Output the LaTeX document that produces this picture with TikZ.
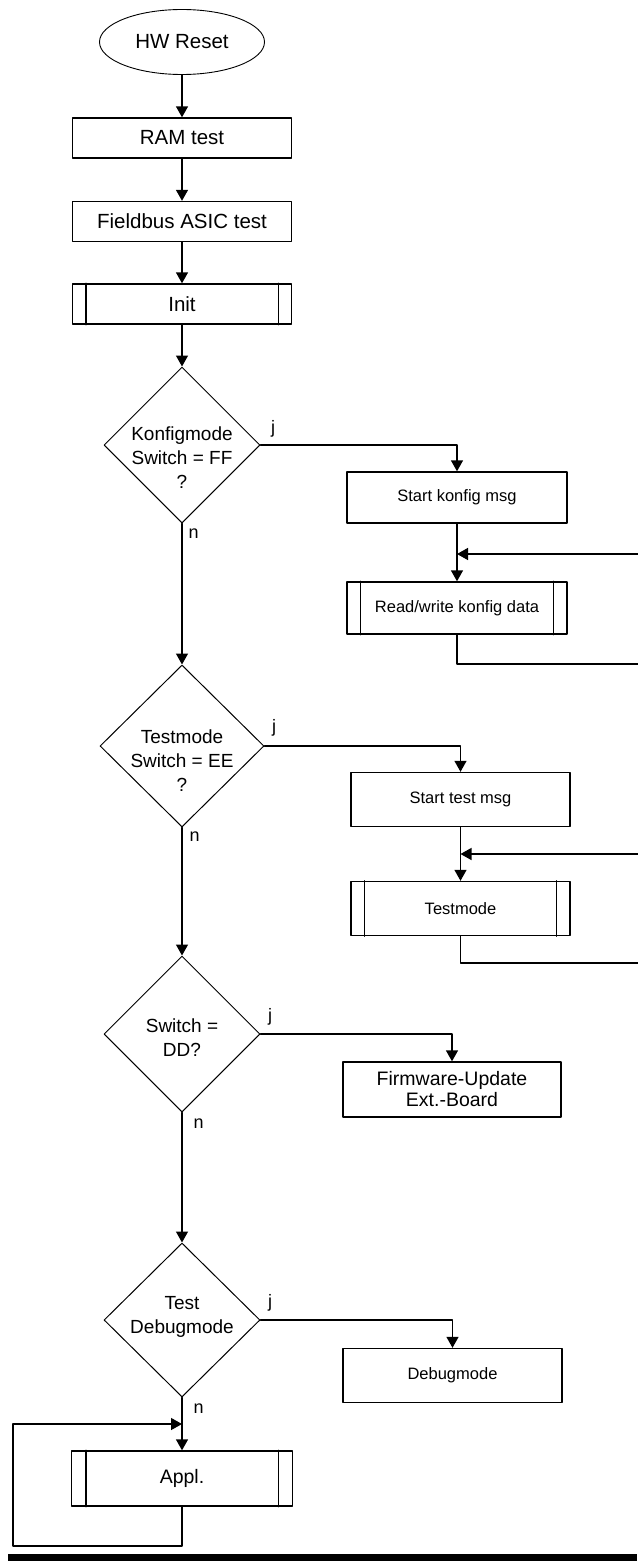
\documentclass[tikz,border=0pt]{standalone}
\usepackage{fontspec}
\setmainfont{Liberation Sans}
\usetikzlibrary{shapes.geometric,arrows.meta}

\tikzset{
  box/.style={draw,rectangle,inner sep=0pt,minimum width=219pt,minimum height=40pt,
    align=center,font=\fontsize{20.5}{22}\selectfont},
  smallbox/.style={box,minimum height=54pt,font=\fontsize{16.5}{19}\selectfont},
  decision/.style={draw,diamond,line width=1pt,inner sep=0pt,
    minimum width=156pt,minimum height=156pt},
  dtext/.style={align=center,inner sep=0pt,font=\fontsize{19}{24}\selectfont},
  lbl/.style={inner sep=1pt,font=\fontsize{18}{20}\selectfont},
  flow/.style={-{Triangle[width=12pt,length=11pt]}},
}

\begin{document}
\begin{tikzpicture}[x=1pt,y=-1pt,line width=1.4pt,line cap=round,line join=round]
\useasboundingbox (0,0) rectangle (637,1563);
% main column
\node[draw,ellipse,line width=0.9pt,minimum width=165pt,minimum height=65pt,
  font=\fontsize{20.5}{22}\selectfont] (reset) at (182,42) {HW Reset};
\node[box] (ram) at (182,138) {RAM test};
\node[box] (asic) at (182,221.5) {Fieldbus ASIC test};
\node[box] (init) at (182,304) {Init};
\node[decision] (konfig) at (182,445) {};
\node[dtext] (konfigtxt) at (182,458) {Konfigmode\\Switch = FF\\?};
\node[decision,minimum width=164pt,minimum height=162pt] (testq) at (182,746) {};
\node[dtext] (testqtxt) at (182,761) {Testmode\\Switch = EE\\?};
\node[decision] (switchq) at (182,1034) {};
\node[dtext] (switchqtxt) at (182,1038) {Switch =\\DD?};
\node[decision,minimum height=154pt] (debugq) at (182,1320) {};
\node[dtext] (debugqtxt) at (182,1317) {Test\\Debugmode};
\node[box,minimum width=221pt,minimum height=55pt,font=\fontsize{19.5}{22}\selectfont] (appl) at (182,1478.5) {Appl.};
% right column
\node[smallbox,minimum width=220pt,minimum height=51pt] (startk) at (457,497.5) {Start konfig msg};
\node[smallbox,minimum width=220pt,minimum height=52pt] (rwk) at (457,608) {Read/write konfig data};
\node[smallbox] (startt) at (460.5,799.5) {Start test msg};
\node[smallbox] (tmode) at (460.5,908.5) {Testmode};
\node[box,minimum width=218pt,minimum height=55pt,font=\fontsize{19.5}{21}\selectfont] (fw) at (452,1089.5) {Firmware-Update\\Ext.-Board};
\node[smallbox] (debug) at (452.5,1375.5) {Debugmode};

% side bars of the sub-process boxes
\foreach \nd/\d in {init/14,rwk/14,tmode/14,appl/15}{
  \draw ([xshift=\d pt]\nd.north west) -- ([xshift=\d pt]\nd.south west);
  \draw ([xshift=-\d pt]\nd.north east) -- ([xshift=-\d pt]\nd.south east);
}

\draw[flow] (reset) -- (ram);
\draw[flow] (ram) -- (asic);
\draw[flow] (asic) -- (init);
\draw[flow] (init) -- (konfig);
\draw[flow] (konfig.south) -- (testq.north);
\draw[flow] (testq.south) -- (switchq.north);
\draw[flow] (switchq.south) -- (debugq.north);
\draw[flow] (debugq.south) -- (appl.north);

% yes branches
\draw[flow] (konfig.east) -| (startk.north);
\draw[flow] (testq.east) -| (startt.north);
\draw[flow] (switchq.east) -| (fw.north);
\draw[flow] (debugq.east) -| (debug.north);
\draw[flow] (startk) -- (rwk);
\draw[flow] (startt) -- (tmode);

% j / n labels
\node[lbl,anchor=south west] (kyes) at ([xshift=9pt,yshift=6pt]konfig.east) {j};
\node[lbl,anchor=south west] (tyes) at ([xshift=6pt,yshift=8pt]testq.east) {j};
\node[lbl,anchor=south west] (syes) at ([xshift=6pt,yshift=7pt]switchq.east) {j};
\node[lbl,anchor=south west] (dyes) at ([xshift=6pt,yshift=7pt]debugq.east) {j};
\node[lbl,anchor=north west] (kno) at ([xshift=5pt,yshift=-4pt]konfig.south) {n};
\node[lbl,anchor=north west] (tno) at ([xshift=6pt,yshift=-3pt]testq.south) {n};
\node[lbl,anchor=north west] (sno) at ([xshift=10pt,yshift=-5pt]switchq.south) {n};
\node[lbl,anchor=north west] (dno) at ([xshift=10pt,yshift=-5pt]debugq.south) {n};

% loops back
\coordinate (kjoin) at (457,554);
\coordinate (kback) at (650,664);
\draw[flow] (rwk.south) |- (kback) |- (kjoin);
\coordinate (tjoin) at (460.5,854);
\coordinate (tback) at (650,963);
\draw[flow] (tmode.south) |- (tback) |- (tjoin);
\coordinate (ajoin) at (182,1424);
\coordinate (aback) at (13,1546);
\draw[flow] (appl.south) |- (aback) |- (ajoin);

\fill (8,1554) rectangle (637,1561);
\end{tikzpicture}
\end{document}
